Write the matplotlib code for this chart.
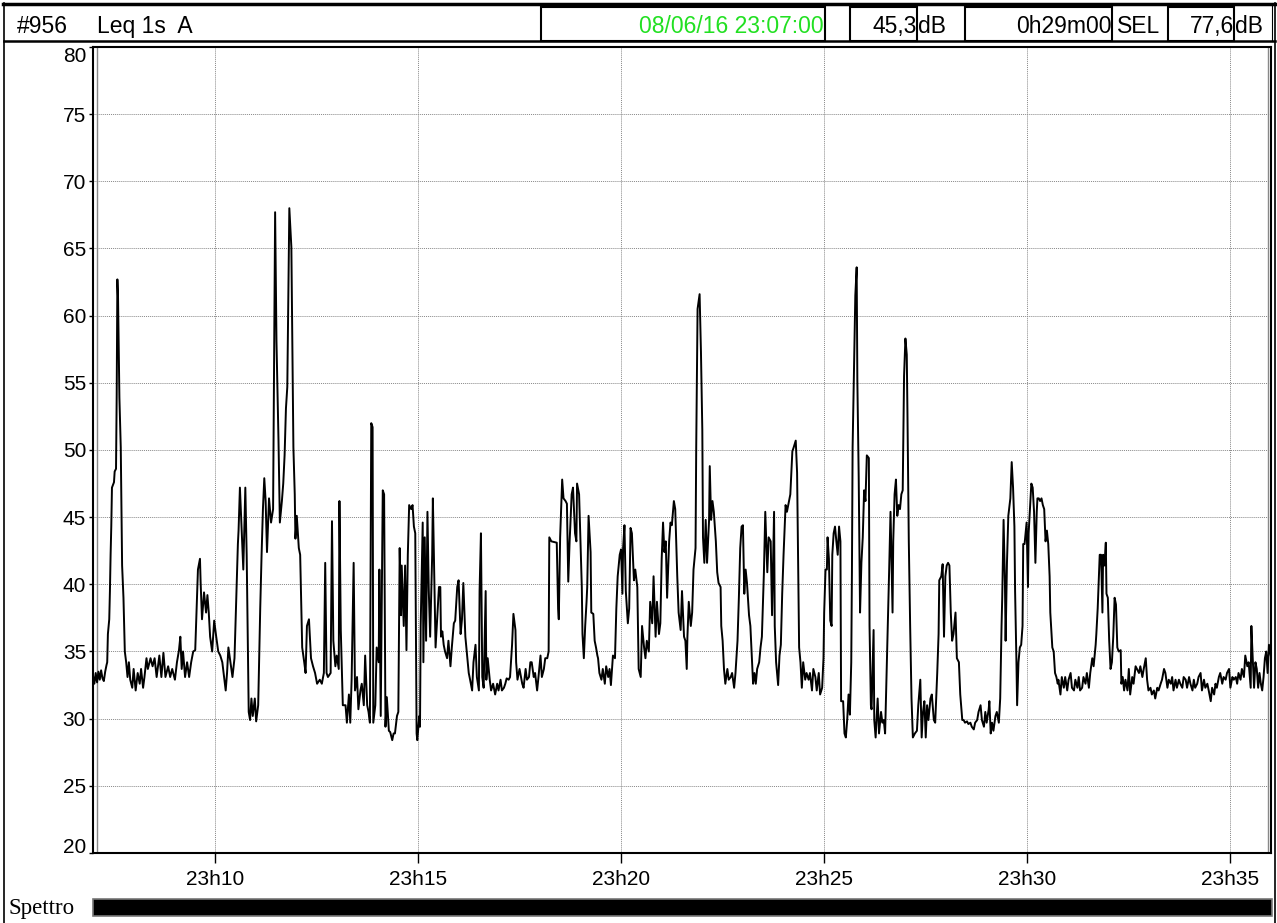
import matplotlib
matplotlib.use("Agg")
import matplotlib.pyplot as plt
from matplotlib.patches import Rectangle

plt.rcParams['font.family'] = ['Liberation Sans', 'DejaVu Sans']

# Leq 1s (A) - seconds since 23:07:00
seconds = [
    0, 2, 4, 6, 8, 10, 12, 14, 16, 18, 20, 21, 22, 24, 25, 26, 27, 28, 31, 32,
    34, 35, 36, 37, 39, 41, 43, 45, 47, 49, 51, 53, 55, 58, 60, 63, 66, 69, 71, 74,
    76, 79, 81, 85, 88, 91, 94, 98, 101, 104, 107, 111, 114, 117, 121, 124, 127, 129, 131, 133,
    136, 139, 142, 145, 148, 151, 155, 158, 159, 161, 164, 167, 169, 171, 173, 176, 179, 182, 185, 188,
    191, 194, 196, 198, 200, 203, 206, 209, 212, 214, 215, 217, 219, 222, 225, 227, 228, 230, 232, 234,
    236, 239, 241, 244, 247, 249, 251, 253, 255, 257, 260, 263, 266, 269, 271, 274, 276, 279, 281, 283,
    285, 287, 290, 293, 296, 298, 299, 301, 304, 306, 309, 312, 314, 316, 319, 322, 325, 328, 331, 335,
    338, 341, 343, 345, 347, 351, 353,
    355, 358, 360, 363, 364, 366, 369, 373, 375, 378, 380, 382, 385, 387, 390, 392, 395, 397, 400, 402,
    405, 407, 409, 411, 413, 414, 417, 419, 422, 423, 425, 428, 430, 432, 434, 437, 439, 442, 444, 446,
    449, 451, 453, 455, 456, 459, 461, 463, 465, 467, 470, 472, 474, 476, 478, 479, 482, 483, 484, 487,
    488, 490, 492, 494, 496, 498, 501, 502, 504, 506, 508, 511, 513, 514, 516, 518, 520, 523, 525, 528,
    530, 533, 535, 538, 540, 543, 545, 547, 550, 552, 555, 557, 560, 562, 565, 567, 570, 571, 573, 575,
    577, 580, 581, 583, 586, 588, 591, 594, 597, 599, 602, 604, 607, 609, 611, 614, 616, 619, 621, 624,
    625, 627, 630, 634, 636, 639, 641, 644, 646, 648, 651, 653, 656, 658, 661, 663, 666, 668, 671, 673,
    674, 677, 685, 687, 688, 690, 693, 695, 698,
    700, 702, 704, 705, 707, 709, 712, 714, 715, 718, 720, 722, 723, 725, 727, 729, 730, 732, 735, 736,
    739, 741, 743, 745, 746, 748, 751, 753, 756, 758, 761, 763, 765, 768, 771, 773, 775, 778, 780, 782,
    783, 785, 787, 790, 792, 794, 796, 799, 801, 804, 806, 809, 811, 814, 816, 818, 821, 823, 826, 828,
    831, 833, 836, 838, 840, 842, 844, 846, 848, 851, 853, 855, 858, 860, 863, 865, 868, 870, 873, 875,
    877, 878, 880, 883, 885, 887, 890, 891, 893, 896, 898, 900, 901, 903, 905, 907, 910, 911, 913, 915,
    917, 920, 922, 924, 927, 928, 930, 932, 934, 937, 939, 942, 944, 947, 949, 952, 954, 956, 958, 960,
    962, 964, 966, 969, 971, 973, 975, 977, 979, 981, 984, 986, 988, 991, 993, 996, 998, 1001, 1003, 1006,
    1007, 1009, 1012, 1014, 1016, 1018, 1020, 1023, 1025, 1028, 1030, 1033, 1035, 1038, 1040, 1043, 1045, 1047, 1049, 1052,
    1054, 1057, 1059, 1062, 1064, 1067, 1069, 1072, 1074, 1077, 1079, 1080, 1082, 1084, 1085, 1087, 1089, 1091, 1092, 1094,
    1096, 1098, 1100, 1102, 1104, 1105, 1108, 1110, 1112, 1114, 1116, 1118, 1120, 1121, 1122, 1126, 1128, 1129, 1131, 1133,
    1135, 1137, 1139, 1141, 1143, 1146, 1147, 1149, 1150, 1153, 1154, 1156, 1159, 1161, 1164, 1166, 1168, 1170, 1172, 1174,
    1176, 1178, 1181, 1182, 1184, 1186, 1188, 1190, 1192, 1194, 1196, 1198, 1200, 1202, 1203, 1205, 1207, 1209, 1211, 1214,
    1217, 1219, 1222, 1224, 1226, 1228, 1230, 1232, 1234, 1237, 1239, 1242, 1244, 1247, 1249, 1250, 1253, 1255, 1257, 1259,
    1261, 1263, 1265, 1267, 1269, 1271, 1274, 1276, 1279, 1281, 1284, 1286, 1288, 1291, 1293, 1296, 1298, 1301, 1303, 1306,
    1308, 1311, 1313, 1316, 1318, 1320, 1323, 1324, 1326, 1328, 1330, 1333, 1335, 1338, 1340, 1342, 1343, 1345, 1347, 1348,
    1350, 1352, 1355, 1357, 1359, 1361, 1362, 1364, 1365, 1367, 1369, 1371, 1373, 1374, 1376, 1379, 1381, 1382, 1384, 1386,
    1388, 1390, 1392,
    1394, 1395, 1397, 1399, 1401, 1403, 1405, 1407, 1409, 1411, 1413, 1414, 1417, 1419, 1421, 1423, 1425, 1426, 1429, 1431,
    1434, 1436, 1439, 1441, 1444, 1446, 1449, 1451, 1454, 1456, 1458, 1461, 1463, 1466, 1468, 1471, 1473, 1476, 1478, 1481,
    1482, 1484, 1486, 1487, 1489, 1491, 1492, 1494, 1496, 1497, 1499, 1501, 1503, 1505, 1507, 1509, 1511, 1513, 1515, 1518,
    1519, 1521, 1523, 1525, 1528, 1530, 1532, 1535, 1537, 1540, 1542, 1545, 1547, 1550, 1552, 1555, 1557, 1559, 1562, 1564,
    1567, 1569, 1572, 1574, 1577, 1579, 1582, 1584, 1587, 1589, 1592, 1594, 1596, 1599, 1601, 1604, 1606, 1609, 1611, 1614,
    1616, 1619, 1621, 1624, 1626, 1628, 1631, 1633, 1636, 1638, 1641, 1643, 1646, 1648, 1651, 1653, 1656, 1658, 1660, 1663,
    1665, 1668, 1670, 1673, 1675, 1678, 1680, 1683, 1685, 1688, 1690, 1692, 1695, 1697, 1700, 1702, 1705, 1707, 1710, 1711,
    1713, 1715, 1717, 1719, 1721, 1723, 1725, 1727, 1729, 1731, 1733, 1735, 1737, 1740,
]
leq = [
    33.2, 32.6, 33.4, 32.7, 33.5, 32.9, 33.6, 33.0, 32.8, 33.5, 34.0, 34.2, 36.3, 37.4, 39.5, 42.2, 44.3, 47.2, 47.6, 48.4,
    48.6, 54.1, 62.7, 61.3, 53.9, 50.2, 41.4, 39.0, 35.0, 34.2, 33.1, 34.2, 32.9, 32.3, 33.7, 32.1, 33.4, 32.6, 33.7, 32.3,
    33.1, 34.5, 33.7, 34.5, 33.9, 34.5, 33.1, 34.7, 33.1, 34.9, 33.1, 33.9, 33.1, 33.7, 32.9, 34.2, 35.1, 36.1, 33.7, 35.0,
    33.1, 34.2, 33.1, 34.2, 35.0, 35.1, 41.1, 41.9, 40.1, 37.4, 39.4, 37.9, 39.2, 37.9, 36.1, 35.0, 37.3, 36.1, 35.0, 34.7,
    34.2, 32.9, 32.1, 33.4, 35.3, 34.2, 33.1, 34.5, 39.5, 43.0, 44.0, 47.2, 44.8, 41.1, 47.2, 42.2, 38.2, 30.5, 29.9, 31.5,
    30.2, 31.5, 29.8, 31.0, 38.2, 42.2, 45.6, 47.9, 46.2, 42.4, 46.4, 44.6, 45.6, 67.7, 58.1, 50.7, 44.6, 46.2, 47.5, 49.6,
    53.1, 54.7, 68.0, 65.1, 50.2, 46.7, 43.4, 45.1, 42.7, 42.2, 35.3, 34.2, 33.4, 36.9, 37.4, 34.5, 33.9, 33.4, 32.6, 32.9,
    32.6, 33.4, 41.6, 33.4, 33.1, 33.4, 44.7,
    35.8, 33.9, 34.7, 33.7, 46.2, 36.6, 31.0, 31.0, 29.7, 31.8, 29.7, 32.9, 41.6, 32.1, 33.1, 30.7, 32.1, 32.6, 31.0, 34.7,
    31.0, 30.5, 29.7, 52.0, 51.7, 29.7, 31.0, 35.3, 34.2, 41.1, 30.2, 47.0, 46.7, 29.4, 31.6, 29.1, 29.0, 28.4, 28.9, 28.9,
    30.2, 30.5, 42.7, 37.7, 41.4, 36.9, 41.4, 35.1, 42.2, 45.9, 45.6, 45.9, 44.3, 43.8, 28.9, 28.4, 30.2, 29.4, 36.9, 44.6,
    34.2, 43.5, 35.8, 45.4, 39.5, 36.1, 42.2, 46.4, 40.9, 35.3, 37.1, 39.8, 39.8, 36.1, 36.5, 35.5, 35.0, 34.5, 35.8, 33.9,
    35.3, 37.1, 37.3, 39.8, 40.3, 36.3, 37.4, 40.1, 36.1, 35.0, 33.4, 32.9, 32.1, 34.2, 35.5, 33.1, 32.1, 39.5, 43.8, 33.1,
    32.3, 39.5, 32.9, 34.5, 32.9, 32.1, 32.6, 31.8, 32.6, 32.1, 32.9, 32.1, 32.3, 32.6, 33.0, 32.9, 33.1, 35.5, 37.8, 36.6,
    34.2, 32.9, 33.7, 32.6, 32.3, 33.7, 32.9, 33.1, 34.2, 34.2, 33.1, 33.4, 32.1, 33.1, 34.7, 33.1, 33.7, 34.5, 34.5, 35.0,
    43.5, 43.2, 43.1, 38.2, 37.4, 43.5, 47.8, 46.4, 46.2,
    46.0, 40.2, 43.2, 44.3, 46.7, 47.2, 43.8, 43.2, 47.5, 46.7, 43.2, 39.8, 36.3, 34.5, 36.9, 38.7, 39.8, 45.1, 42.4, 37.9,
    37.8, 35.8, 35.3, 34.7, 34.5, 33.4, 32.9, 33.7, 32.6, 33.9, 33.1, 33.7, 32.5, 34.7, 34.5, 38.2, 40.6, 42.2, 42.6, 39.3,
    42.7, 44.4, 39.5, 37.1, 38.2, 44.2, 43.8, 40.3, 41.1, 39.8, 33.7, 33.1, 36.9, 35.3, 34.5, 35.8, 35.0, 38.7, 37.1, 40.6,
    36.1, 38.7, 36.3, 37.1, 41.9, 44.6, 42.4, 43.2, 39.0, 43.2, 44.6, 44.4, 46.2, 45.6, 40.6, 37.9, 36.6, 39.5, 36.1, 35.8,
    33.7, 36.1, 38.7, 36.9, 37.9, 41.1, 42.7, 50.2, 60.5, 61.6, 57.3, 51.5, 43.5, 41.6, 44.8, 41.6, 44.8, 48.8, 44.8, 46.2,
    45.4, 43.2, 40.9, 40.1, 39.8, 36.9, 35.8, 33.7, 32.6, 33.7, 32.9, 33.1, 33.4, 32.3, 33.4, 35.8, 39.0, 42.7, 44.3, 44.4,
    39.3, 41.1, 40.1, 37.7, 36.9, 34.7, 32.6, 33.4, 32.6, 33.7, 34.2, 35.3, 36.1, 40.9, 45.4, 40.9, 43.5, 43.2, 37.7, 45.4,
    36.9, 34.2, 32.5, 34.7, 35.5, 39.3, 42.2, 45.9, 45.4, 46.2, 46.7, 49.9, 50.2, 50.7, 48.3, 35.3, 34.2, 32.3, 34.2, 32.9,
    33.4, 32.9, 33.4, 32.1, 33.7, 33.1, 32.1, 33.4, 31.8, 32.3, 34.5, 37.9, 41.1, 41.1, 43.5, 41.9, 37.3, 36.9, 42.2, 43.8,
    44.3, 43.2, 42.2, 44.3, 43.2, 31.3, 31.3, 28.9, 28.6, 29.9, 31.8, 30.3, 34.2, 40.9, 50.2, 61.5, 63.6, 55.2, 48.0, 37.9,
    41.6, 43.5, 47.0, 46.2, 49.6, 49.4, 36.9, 31.0, 30.7, 36.6, 29.9, 28.6, 31.5, 28.9, 30.5, 29.7, 29.9, 28.9, 32.9, 36.9,
    41.1, 45.4, 37.9, 43.2, 46.7, 47.8, 45.1, 45.9, 45.6, 46.7, 47.0, 55.5, 58.3, 57.1, 52.8, 43.2, 36.9, 31.5, 28.6, 28.9,
    29.1, 31.0, 32.9, 28.6, 30.5, 31.3, 28.6, 31.0, 29.9, 31.5, 31.8, 29.9, 29.7, 33.4, 36.3, 40.3, 40.6, 41.5, 36.1, 40.6,
    41.4, 41.6, 41.4, 37.9, 35.8, 36.3, 37.9, 34.5, 34.2, 31.8, 29.9, 29.9, 29.7, 29.8, 29.6, 29.7, 29.4, 29.2, 29.7, 29.9,
    30.5, 31.0, 29.9, 29.4, 30.5, 29.7, 30.7, 31.3, 28.9, 29.7, 29.1, 30.2, 30.5, 29.7, 31.5, 36.9, 39.0, 44.8, 40.1, 35.8,
    41.6, 45.1, 46.4, 49.1, 47.2, 44.3, 39.5, 34.2, 31.0, 34.2, 35.3, 35.5, 36.9, 43.0, 43.0, 44.6, 39.8, 43.8, 45.6, 47.5,
    47.2, 45.4, 41.6,
    45.4, 46.4, 46.4, 46.2, 46.4, 45.9, 45.6, 43.2, 44.0, 43.0, 40.6, 37.9, 35.3, 35.0, 33.4, 33.1, 32.6, 32.9, 31.8, 33.1,
    32.3, 33.1, 32.1, 32.9, 33.4, 32.3, 32.1, 32.9, 32.3, 33.1, 32.1, 32.3, 33.1, 32.6, 33.4, 32.3, 33.4, 34.5, 33.9, 35.5,
    36.3, 38.2, 40.9, 42.2, 42.2, 37.9, 42.2, 41.4, 43.1, 39.3, 39.0, 35.8, 33.7, 34.2, 36.1, 39.0, 38.5, 35.3, 35.0, 35.1,
    32.6, 33.1, 32.1, 32.9, 32.1, 33.7, 31.8, 33.1, 32.6, 33.9, 33.7, 33.4, 33.9, 33.1, 33.7, 34.5, 32.9, 32.1, 32.3, 31.8,
    32.1, 31.5, 32.3, 32.1, 32.6, 32.9, 33.7, 33.4, 32.3, 32.9, 32.6, 33.1, 32.1, 32.9, 32.3, 32.9, 32.6, 32.3, 33.1, 32.9,
    32.3, 33.1, 32.6, 32.1, 32.9, 32.3, 32.6, 33.1, 33.4, 32.1, 32.9, 32.3, 32.6, 32.1, 31.3, 32.3, 31.8, 32.6, 32.3, 33.1,
    33.4, 32.6, 33.1, 32.9, 33.4, 33.7, 32.3, 33.1, 32.9, 33.1, 32.6, 33.4, 32.9, 33.7, 33.1, 34.7, 33.9, 34.2, 32.3, 36.9,
    34.5, 32.3, 34.2, 33.7, 32.3, 33.4, 32.6, 32.1, 33.1, 34.5, 35.0, 33.4, 35.5, 34.6,
]

tick_seconds = [180, 480, 780, 1080, 1380, 1680]
tick_labels = ['23h10', '23h15', '23h20', '23h25', '23h30', '23h35']
y_ticks = [20, 25, 30, 35, 40, 45, 50, 55, 60, 65, 70, 75, 80]

W, H = 1277, 923
fig = plt.figure(figsize=(W / 100, H / 100), dpi=100)

# frame / header layer in pixel units
bg = fig.add_axes([0, 0, 1, 1])
bg.set_xlim(0, W)
bg.set_ylim(H, 0)
bg.axis('off')

bg.plot([4, 4], [3, H], color='black', lw=1.2)
bg.plot([1275, 1275], [3, H], color='black', lw=1.2)
bg.plot([3, 1276], [3.5, 3.5], color='black', lw=2.5)
bg.plot([4, 1275], [41, 41], color='black', lw=1.8)
bg.plot([1272, 1272], [5, 41], color='black', lw=0.8)

for x0, x1 in [(541, 825), (850, 917), (965, 1112), (1168, 1234)]:
    bg.add_patch(Rectangle((x0, 7), x1 - x0, 34, fill=False, ec='black', lw=1.5))

hfs = 16.5
base = 33
bg.text(17, base, '#956', fontsize=hfs, va='baseline', ha='left')
bg.text(97, base, 'Leq 1s  A', fontsize=hfs, va='baseline', ha='left')
bg.text(824, base, '08/06/16 23:07:00', fontsize=hfs, va='baseline', ha='right', color='#22e022')
bg.text(917, base, '45,3', fontsize=hfs, va='baseline', ha='right')
bg.text(918, base, 'dB', fontsize=hfs, va='baseline', ha='left')
bg.text(1112, base, '0h29m00', fontsize=hfs, va='baseline', ha='right')
bg.text(1117, base, 'SEL', fontsize=hfs, va='baseline', ha='left')
bg.text(1234, base, '77,6', fontsize=hfs, va='baseline', ha='right')
bg.text(1235, base, 'dB', fontsize=hfs, va='baseline', ha='left')

# inner bevel lines of the plot frame
bg.plot([96.5, 96.5], [48, 852], color='#888888', lw=1)
bg.plot([1267.5, 1267.5], [48, 852], color='#888888', lw=1)

# spectrum strip
bg.add_patch(Rectangle((93, 899), 1179, 17, fc='black', ec='#777777', lw=1.2))
bg.text(8, 914, 'Spettro', fontsize=16.5, va='baseline', ha='left',
        family=['Liberation Serif', 'DejaVu Serif'])

# main plot
fs = 15
ax = fig.add_axes([93 / W, 1 - 853 / H, (1271 - 93) / W, (853 - 47) / H])
ax.patch.set_alpha(0)
ax.plot(seconds, leq, color='black', lw=1.4)
ax.set_xlim(0, 1740)
ax.set_ylim(20, 80)
ax.set_xticks(tick_seconds)
ax.set_xticklabels(tick_labels)
ax.set_yticks(y_ticks)
ax.grid(True, color='#888888', linestyle=(0, (1, 1)), linewidth=0.7)
for s in ax.spines.values():
    s.set_linewidth(1.5)
ax.tick_params(axis='y', direction='out', length=3, width=1, labelsize=fs, pad=2)
ax.tick_params(axis='x', direction='out', length=7, width=1, labelsize=fs, pad=5)

# end labels of the y scale sit inside the frame
ylabels = ax.get_yticklabels()
ylabels[0].set_verticalalignment('baseline')
ylabels[-1].set_verticalalignment('top')

fig.savefig('out.png', dpi=100)
